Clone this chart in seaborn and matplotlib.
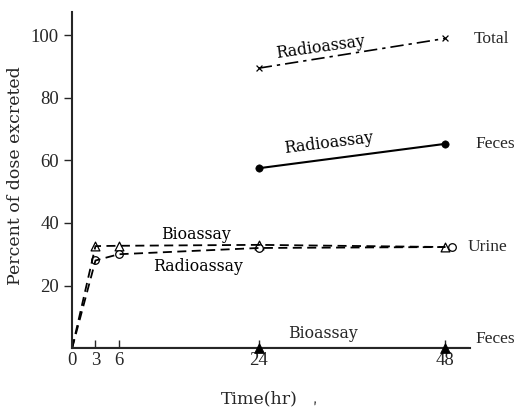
import matplotlib
matplotlib.use("Agg")
import matplotlib.pyplot as plt
import seaborn as sns
import pandas as pd

sns.set_style("ticks")
plt.rcParams['font.family'] = ['DejaVu Serif']

# Data (time in hr, percent of dose excreted)
total_radio_t = [24, 48]
total_radio_v = [89.5, 99]
feces_radio_t = [24, 48]
feces_radio_v = [57.5, 65.3]
urine_bio_t = [0, 3, 6, 24, 48]
urine_bio_v = [0, 32.6, 32.7, 33.0, 32.3]
urine_radio_t = [0, 3, 6, 24, 48]
urine_radio_v = [0, 28.0, 30.0, 32.0, 32.3]
feces_bio_t = [24, 48]
feces_bio_v = [0, 0]

x_ticks = [0, 3, 6, 24, 48]
y_ticks = [20, 40, 60, 80, 100]

fig = plt.figure(figsize=(5.19, 4.09), dpi=100)
ax = fig.add_axes([0.139, 0.149, 0.767, 0.822])

k = dict(color='black', ax=ax, legend=False)
# Total radioassay
sns.lineplot(x=total_radio_t, y=total_radio_v, linestyle=(0, (8, 3, 2, 3)), lw=1.2, **k)
sns.scatterplot(x=total_radio_t, y=total_radio_v, marker='x', s=18, linewidth=0.9, **k)
# Feces radioassay
sns.lineplot(x=feces_radio_t, y=feces_radio_v, linestyle='-', lw=1.5, **k)
sns.scatterplot(x=feces_radio_t, y=feces_radio_v, marker='o', s=28, edgecolor='black', **k)
# Urine bioassay
sns.lineplot(x=urine_bio_t, y=urine_bio_v, linestyle=(0, (5, 3)), lw=1.3, **k)
sns.scatterplot(x=urine_bio_t[1:], y=urine_bio_v[1:], marker='^', s=40, facecolor='white', edgecolor='black', linewidth=0.9, ax=ax, legend=False)
# Urine radioassay
sns.lineplot(x=urine_radio_t, y=urine_radio_v, linestyle=(0, (5, 3)), lw=1.3, **k)
sns.scatterplot(x=[t + (0.8 if t == 48 else 0) for t in urine_radio_t[1:]], y=urine_radio_v[1:], marker='o', s=30, facecolor='white', edgecolor='black', linewidth=0.9, ax=ax, legend=False)
# Feces bioassay
sns.lineplot(x=[0, 51], y=[0, 0], linestyle='-', lw=1.5, **k)
sns.scatterplot(x=feces_bio_t, y=feces_bio_v, marker='^', s=50, edgecolor='black', clip_on=False, zorder=5, **k)

ax.set_xlim(0, 51.2)
ax.set_ylim(0, 107.5)
ax.set_xticks(x_ticks)
ax.set_xticklabels([str(t) for t in x_ticks], family='Liberation Serif')
ax.set_yticks(y_ticks)
ax.set_yticklabels([str(v) for v in y_ticks], family='Liberation Serif')
ax.tick_params(axis='x', direction='in', length=6, width=1, labelsize=13.5, pad=3)
ax.tick_params(axis='y', direction='out', length=6, width=1, labelsize=13.5)
sns.despine(ax=ax)
ax.spines['left'].set_linewidth(1.5)
ax.spines['bottom'].set_linewidth(1.5)
ax.set_xlabel('')
ax.set_ylabel('')

fs = 11.3
tk = dict(fontsize=fs, ha='center', va='center', color='black')
rk = dict(ha='left', va='center', fontsize=12.5, family='Liberation Serif', clip_on=False)
ax.text(31.9, 96.3, 'Radioassay', rotation=8, **tk)
ax.text(51.6, 98.8, 'Total', **rk)
ax.text(33.0, 65.5, 'Radioassay', rotation=7, **tk)
ax.text(51.9, 65.3, 'Feces', **rk)
ax.text(15.9, 36.3, 'Bioassay', **tk)
ax.text(16.2, 26.0, 'Radioassay', **tk)
ax.text(50.8, 32.3, 'Urine', **rk)
ax.text(32.2, 1.8, 'Bioassay', ha='center', va='bottom', fontsize=fs)
ax.text(51.9, 3.0, 'Feces', **rk)

fig.text(0.030, 0.57, 'Percent of dose excreted', ha='center', va='center', rotation=90, fontsize=12.5)
fig.text(0.50, 0.024, 'Time(hr)', ha='center', va='center', fontsize=12.5)
fig.text(0.605, 0.024, ',', ha='center', va='center', fontsize=10, rotation=20)

fig.savefig('out.png', dpi=100)
